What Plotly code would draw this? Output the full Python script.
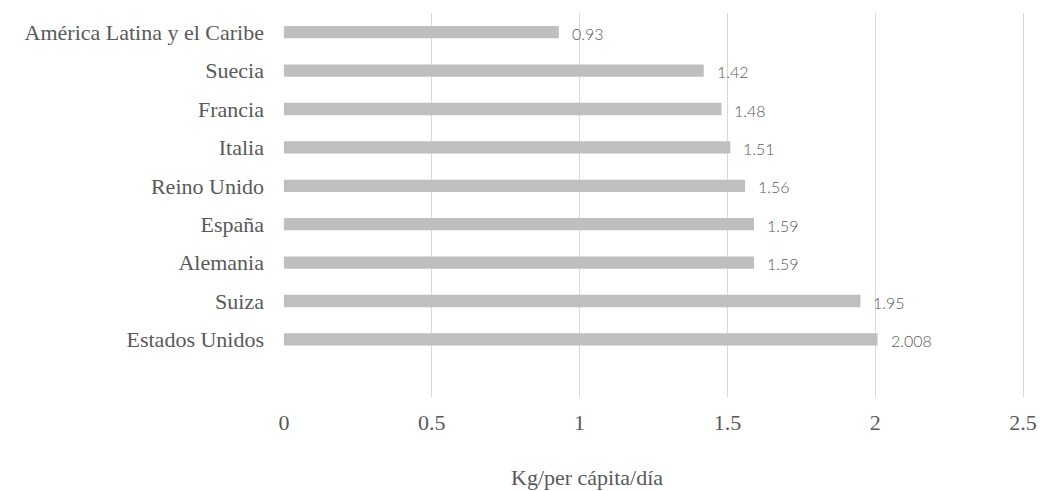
import plotly.graph_objects as go

categories = ["América Latina y el Caribe", "Suecia", "Francia", "Italia", "Reino Unido",
              "España", "Alemania", "Suiza", "Estados Unidos"]
values = [0.93, 1.42, 1.48, 1.51, 1.56, 1.59, 1.59, 1.95, 2.008]
value_labels = ["0.93", "1.42", "1.48", "1.51", "1.56", "1.59", "1.59", "1.95", "2.008"]
x_ticks = [0, 0.5, 1, 1.5, 2, 2.5]
x_tick_labels = ["0", "0.5", "1", "1.5", "2", "2.5"]
x_title = "Kg/per cápita/día"

SERIF = "Liberation Serif, Times New Roman, serif"
TXT = "#595959"

fig = go.Figure()
fig.add_trace(go.Bar(
    y=categories, x=values, orientation="h",
    marker=dict(color="#bfbfbf", line=dict(width=0)),
    width=0.32, hoverinfo="skip", showlegend=False,
))

for c, v, lab in zip(categories, values, value_labels):
    fig.add_annotation(
        x=v, y=c, xref="x", yref="y", text=lab, showarrow=False,
        xanchor="left", yanchor="middle", xshift=11, yshift=-1,
        font=dict(family="Lato, Open Sans, sans-serif", size=16, color=TXT, weight=300),
    )

fig.add_annotation(
    x=0.4095, y=-0.2087, xref="paper", yref="paper", text=x_title, showarrow=False,
    xanchor="center", yanchor="middle",
    font=dict(family=SERIF, size=22, color=TXT),
)

fig.update_layout(
    width=1041, height=491,
    margin=dict(l=283, r=15, t=13, b=94),
    paper_bgcolor="white", plot_bgcolor="white",
    bargap=0.68,
)
fig.update_xaxes(
    range=[-0.003, 2.51], tickvals=x_ticks, ticktext=x_tick_labels,
    showgrid=True, gridcolor="#d9d9d9", gridwidth=1,
    zeroline=False, showline=False, ticks="", automargin=False,
    tickfont=dict(family=SERIF, size=22, color=TXT),
    ticklabelstandoff=10,
)
fig.update_yaxes(
    type="category", categoryorder="array", categoryarray=categories[::-1],
    range=[-1.5, 8.5], showgrid=False, zeroline=False, showline=False, ticks="",
    automargin=False,
    tickfont=dict(family=SERIF, size=22, color=TXT),
    ticklabelstandoff=18,
)

fig.write_html(
    "out.html",
    config={"displayModeBar": False},
    post_script="document.body.style.margin='0';document.body.style.overflow='hidden';",
)
